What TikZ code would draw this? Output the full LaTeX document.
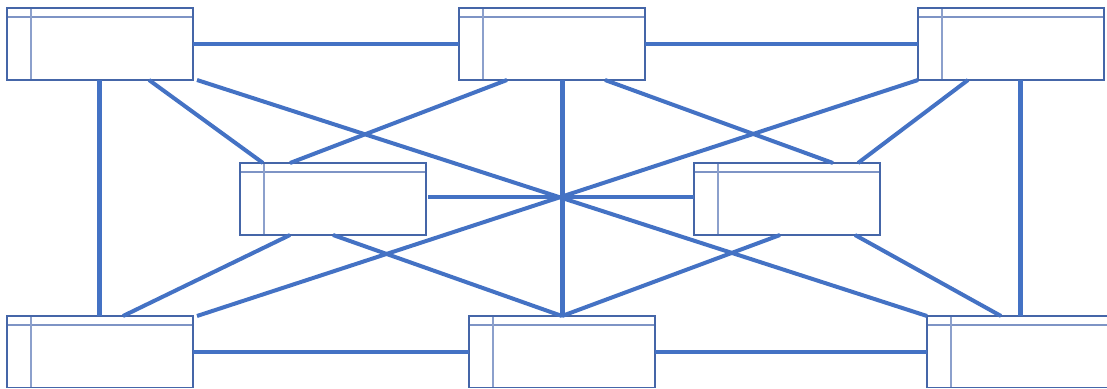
\documentclass[tikz,border=0pt]{standalone}
\definecolor{linkblue}{HTML}{4472C4}
\definecolor{frameblue}{HTML}{4566A8}
\definecolor{ruleblue}{HTML}{8CA0CC}
\tikzset{%
    tablebox/.style={%
        draw=frameblue, line width=1.2pt, rectangle, anchor=north west,
        minimum width=186pt, minimum height=72pt, inner sep=0pt, outer sep=0pt,
        path picture={%
            \draw[ruleblue!80!frameblue, line width=1.2pt]
                ([yshift=-9pt] path picture bounding box.north west)
                -- ([yshift=-9pt] path picture bounding box.north east);
            \draw[ruleblue, line width=1.6pt]
                ([xshift=24pt] path picture bounding box.north west)
                -- ([xshift=24pt] path picture bounding box.south west);
        }
    },
    link/.style={draw=linkblue, line width=4pt},
    trunk/.style={draw=linkblue, line width=5pt}
}

\begin{document}
\begin{tikzpicture}[x=1pt, y=-1pt]

    \useasboundingbox (0, 0) rectangle (1107, 388);
    \clip (0, 0) rectangle (1107, 387.4);

    %%%%%%%%%%%%
    % Tables
    \foreach \name/\x/\y in {%
        tl/7/8, tm/459/8, tr/918/8,
        ml/240/163, mr/694/163,
        bl/7/316, bm/469/316, br/927/316%
    }{%
        \node[tablebox] (\name) at (\x, \y) {};
    };

    %%%%%%%%%%%%
    % Links
    \draw[link] (tl.east) -- (tm.west);
    \draw[link] (tm.east) -- (tr.west);
    \draw[link] (bl.east) -- (bm.west);
    \draw[link] (bm.east) -- (br.west);
    \draw[link] ([xshift=2pt, yshift=2pt] ml.east) -- ([yshift=2pt] mr.west);

    \draw[trunk] ([xshift=-1pt] tl.south) -- ([xshift=-1pt] bl.north);
    \draw[trunk] (tm.south -| bm.north) -- (bm.north);
    \draw[trunk] (tr.south -| br.north) -- (br.north);

    % Crossing through the middle
    \draw[link] ([xshift=4pt] tl.south east) -- (br.north west);
    \draw[link] (tr.south west) -- ([xshift=4pt] bl.north east);

    % Top row down to the middle tables
    \draw[link] ([xshift=142pt] tl.south west) -- ([xshift=23pt] ml.north west);
    \draw[link] ([xshift=48pt] tm.south west) -- ([xshift=50pt] ml.north west);
    \draw[link] ([xshift=146pt] tm.south west) -- ([xshift=139pt] mr.north west);
    \draw[link] ([xshift=50pt] tr.south west) -- ([xshift=-22pt] mr.north east);

    % Middle tables down to the bottom row
    \draw[link] ([xshift=50pt] ml.south west) -- ([xshift=116pt] bl.north west);
    \draw[link] ([xshift=93pt] ml.south west) -- (bm.north);
    \draw[link] ([xshift=86pt] mr.south west) -- (bm.north);
    \draw[link] ([xshift=161pt] mr.south west) -- ([xshift=74pt] br.north west);

\end{tikzpicture}
\end{document}
